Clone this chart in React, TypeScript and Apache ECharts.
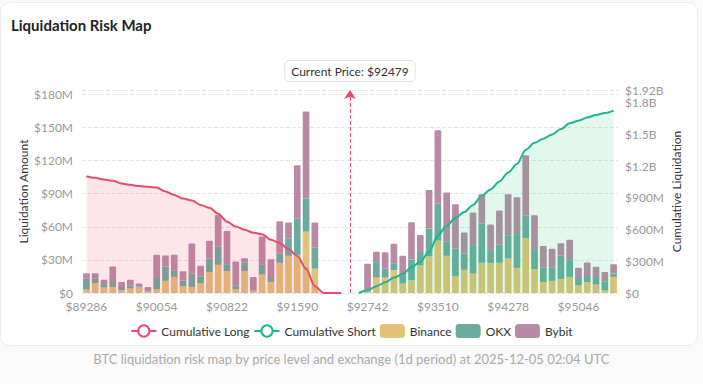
import React, { useEffect, useRef } from "react";
import * as echarts from "echarts";

const FONT = "Lato, 'Open Sans', sans-serif";

// price levels (category axis); index 30 is the current price
const priceLevels = [
  89286, 89382, 89478, 89574, 89670, 89766, 89862, 89958, 90054, 90150,
  90246, 90342, 90438, 90534, 90630, 90726, 90822, 90918, 91014, 91110,
  91206, 91302, 91398, 91494, 91590, 91686, 91782, 91878, 91974, 92070,
  92479, 92646, 92742, 92838, 92934, 93030, 93126, 93222, 93318, 93414,
  93510, 93606, 93702, 93798, 93894, 93990, 94086, 94182, 94278, 94374,
  94470, 94566, 94662, 94758, 94854, 94950, 95046, 95142, 95238, 95334,
  95430,
];
const currentPrice = 92479;

// liquidation amounts in $M (long side indices 0..29, gap 30..31, short side 32..60)
const binance = [
  3, 9, 5, 5.5, 2.5, 4, 5, 1, 3.3, 11, 14.6, 6, 5.5, 9, 18.8, 25.5, 19.7, 3.3, 19.7, 1.5,
  16.7, 10, 27.3, 33.7, 34.6, 55.6, 22, 0, 0.3, 0,
  null, null,
  1, 14, 14, 20.6, 8.5, 11.5, 25, 33.4, 47.4, 33.7, 15, 21, 17.6, 27.3, 27.3, 27.3, 31.3, 22.8,
  49.5, 21.6, 10, 11, 12.5, 14.6, 7, 10, 7.6, 2.4, 14.6,
];
const okx = [
  10, 4, 3, 4.5, 3, 2.5, 1, 0.5, 10.4, 13, 6, 5, 12, 6, 12.5, 16.5, 6.5, 3.7, 8, 0.5,
  9.4, 3.7, 8.7, 15.8, 33, 30, 19, 0, 0.6, 0,
  null, null,
  0.5, 14, 8, 6, 7.6, 19, 13, 25, 33.4, 12.8, 25, 14.8, 25.8, 35.7, 10.7, 16.7, 20.7, 30.6,
  20.5, 17.3, 13, 12, 21.5, 15.2, 6.7, 4.6, 6.1, 8.2, 3,
];
const bybit = [
  5, 5, 4, 14, 4.5, 5.5, 2.5, 4, 21, 10, 14, 8.7, 27.4, 9.6, 16, 28.8, 30, 21.5, 3.7, 12.6,
  25, 17, 29, 14.5, 48.3, 79, 23, 0, 0.1, 0,
  null, null,
  25, 9.4, 15, 18, 17.6, 33.6, 14.5, 35, 66.8, 44.5, 40.5, 19, 29.5, 26.6, 24.2, 30.7, 37.6, 33.4,
  54.8, 31.5, 19.5, 17, 11.2, 18.5, 9.1, 13, 10, 8.4, 8.4,
];

// cumulative liquidation in $M
const cumulativeLong = [
  1105, 1089, 1073, 1061, 1035, 1023, 1012, 1004, 997, 960,
  927, 893, 875, 833, 806, 750, 675, 628, 598, 570,
  556, 503, 474, 415, 350, 230, 64, 1, 1, 0,
  null, null, null, null, null, null, null, null, null, null,
  null, null, null, null, null, null, null, null, null, null,
  null, null, null, null, null, null, null, null, null, null,
  null,
];
const cumulativeShort = [
  null, null, null, null, null, null, null, null, null, null,
  null, null, null, null, null, null, null, null, null, null,
  null, null, null, null, null, null, null, null, null, null,
  null,
  0, 26, 64, 101, 146, 180, 244, 296, 390, 545,
  635, 712, 765, 833, 920, 980, 1055, 1140, 1220, 1355,
  1420, 1460, 1500, 1550, 1605, 1630, 1660, 1683, 1702, 1725,
];

const RED = "#e84c6d";
const GREEN = "#1db592";
const GREEN_AREA = "rgba(46, 204, 113, 0.19)";
const RED_AREA = "rgba(232, 76, 109, 0.2)";
const C_BINANCE = "#e2c277";
const C_OKX = "#6aab9e";
const C_BYBIT = "#b88aa6";

function fmtLeft(v: number) {
  return v === 0 ? "$0" : `$${v}M`;
}
function fmtRight(v: number) {
  if (v === 0) return "$0";
  if (v >= 1000) return `$${+(v / 1000).toFixed(2)}B`;
  return `$${v}M`;
}

export default function App() {
  const ref = useRef<HTMLDivElement>(null);
  useEffect(() => {
    document.body.style.margin = "0";
    if (!ref.current) return;
    const chart = echarts.init(ref.current, undefined, { renderer: "svg" });
    const cats = priceLevels.map((p) => `$${p}`);
    const barBase = {
      type: "bar",
      stack: "ex",
      barWidth: "76%",
      yAxisIndex: 0,
      z: 2,
    };
    chart.setOption({
      animation: false,
      textStyle: { fontFamily: FONT },
      title: {
        text: "Liquidation Risk Map",
        left: 6,
        top: 12,
        textStyle: { fontSize: 15, fontWeight: "bold", color: "#222", fontFamily: FONT },
      },
      legend: {
        top: 319,
        left: "center",
        itemWidth: 25,
        itemHeight: 14,
        itemGap: 4,
        textStyle: { color: "#333", fontSize: 12, fontFamily: FONT },
        data: ["Cumulative Long", "Cumulative Short", "Binance", "OKX", "Bybit"],
      },
      grid: { left: 82, right: 85, top: 90, bottom: 91 },
      xAxis: {
        type: "category",
        data: cats,
        axisTick: { show: false },
        axisLine: { show: false },
        axisLabel: { interval: 7, color: "#999", fontSize: 12, margin: 7, fontFamily: FONT },
      },
      yAxis: [
        {
          type: "value",
          min: 0,
          max: 184,
          interval: 30,
          name: "Liquidation Amount",
          nameLocation: "middle",
          nameRotate: 90,
          nameGap: 53,
          nameMoveOverlap: false,
          nameTextStyle: { color: "#333", fontSize: 12, fontFamily: FONT },
          axisLine: { show: false },
          axisTick: { show: false },
          axisLabel: {
            color: "#999",
            fontSize: 12,
            margin: 9,
            showMaxLabel: false,
            formatter: fmtLeft,
            fontFamily: FONT,
          },
          splitLine: { show: true, lineStyle: { color: "#e6e6e6", type: "dashed" } },
        },
        {
          type: "value",
          min: 0,
          max: 1920,
          interval: 300,
          name: "Cumulative Liquidation",
          nameLocation: "middle",
          nameRotate: 90,
          nameGap: 52,
          nameMoveOverlap: false,
          nameTextStyle: { color: "#333", fontSize: 12, fontFamily: FONT },
          axisLine: { show: false },
          axisTick: { show: false },
          axisLabel: {
            color: "#999",
            fontSize: 12,
            lineHeight: 10,
            margin: 7,
            showMaxLabel: true,
            hideOverlap: false,
            formatter: fmtRight,
            fontFamily: FONT,
          },
          splitLine: { show: false },
        },
      ],
      series: [
        { ...barBase, name: "Binance", data: binance, itemStyle: { color: C_BINANCE } },
        { ...barBase, name: "OKX", data: okx, itemStyle: { color: C_OKX } },
        {
          ...barBase,
          name: "Bybit",
          data: bybit,
          itemStyle: { color: C_BYBIT, borderRadius: [1, 1, 0, 0] },
        },
        {
          name: "Cumulative Long",
          type: "line",
          yAxisIndex: 1,
          data: cumulativeLong,
          smooth: 0.3,
          smoothMonotone: "x",
          showSymbol: false,
          symbol: "emptyCircle",
          symbolSize: 8,
          lineStyle: { color: RED, width: 2 },
          itemStyle: { color: RED },
          areaStyle: { color: RED_AREA },
          z: 3,
          markLine: {
            silent: true,
            symbol: ["none", "arrow"],
            symbolSize: [9, 9],
            lineStyle: { color: RED, type: "dashed", width: 1 },
            label: {
              show: true,
              position: "end",
              distance: 9,
              formatter: `Current Price: $${currentPrice}`,
              color: "#333",
              fontSize: 12,
              fontFamily: FONT,
              backgroundColor: "#fff",
              borderColor: "#e3e3e3",
              borderWidth: 1,
              borderRadius: 4,
              padding: [4, 6],
            },
            data: [{ xAxis: `$${currentPrice}` }],
          },
        },
        {
          name: "Cumulative Short",
          type: "line",
          yAxisIndex: 1,
          data: cumulativeShort,
          smooth: 0.3,
          smoothMonotone: "x",
          showSymbol: false,
          symbol: "emptyCircle",
          symbolSize: 8,
          lineStyle: { color: GREEN, width: 2 },
          itemStyle: { color: GREEN },
          areaStyle: { color: GREEN_AREA },
          z: 3,
        },
      ],
      graphic: [
        {
          type: "text",
          left: "center",
          top: 352,
          style: {
            text: "BTC liquidation risk map by price level and exchange (1d period) at 2025-12-05 02:04 UTC",
            fill: "#aaa",
            fontSize: 13,
            fontFamily: FONT,
          },
        },
      ],
    });
    return () => chart.dispose();
  }, []);

  return (
    <div style={{ position: "relative", width: 703, height: 384, background: "#fafafa", overflow: "hidden" }}>
      <div
        style={{
          position: "absolute",
          left: 0,
          top: 2,
          width: 696,
          height: 342,
          background: "#fff",
          border: "1px solid #ececec",
          borderRadius: 10,
        }}
      />
      <div ref={ref} style={{ position: "absolute", left: 0, top: 0, width: 703, height: 384 }} />
    </div>
  );
}
